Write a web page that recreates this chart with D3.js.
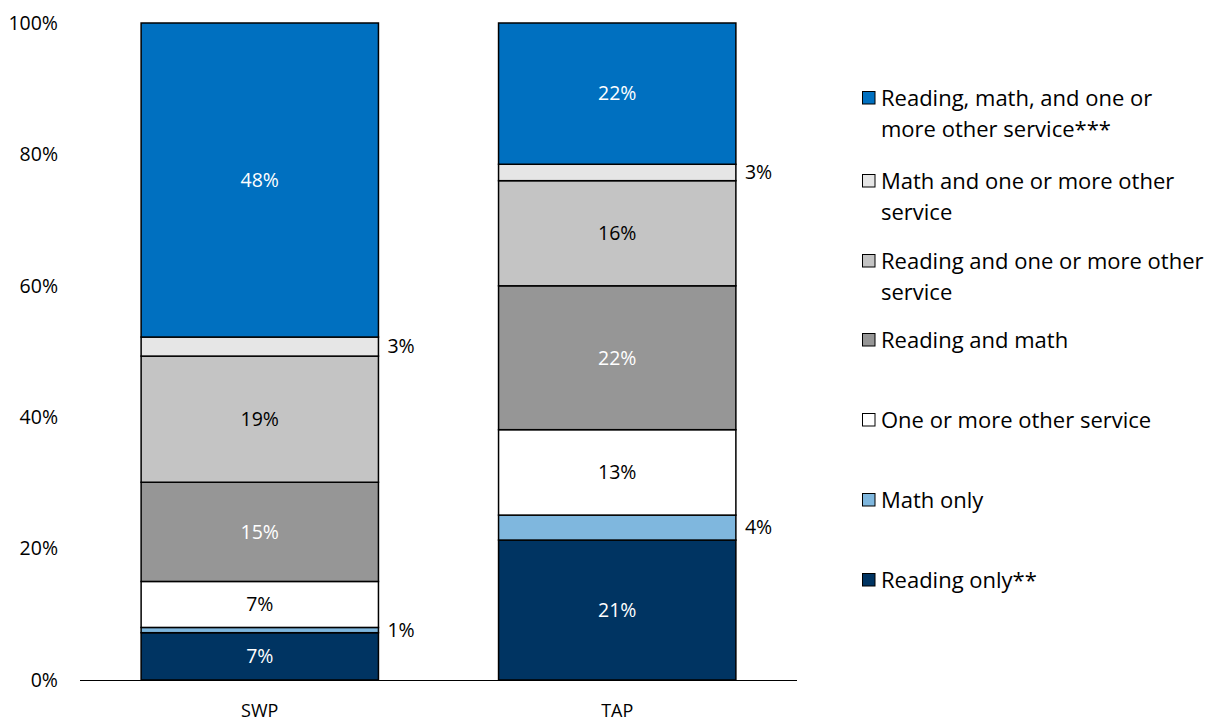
<!DOCTYPE html>
<html><head><meta charset="utf-8">
<script src="https://cdn.jsdelivr.net/npm/d3@7"></script>
<style>body{margin:0;background:#fff}svg text{font-family:"Open Sans",sans-serif}</style>
</head><body><svg id="c" width="1229" height="724"></svg>
<script>
const programs = ["SWP", "TAP"];
const seriesNames = ["Reading only**", "Math only", "One or more other service", "Reading and math", "Reading and one or more other service", "Math and one or more other service", "Reading, math, and one or more other service***"];
const legendLines = [["Reading only**"], ["Math only"], ["One or more other service"], ["Reading and math"], ["Reading and one or more other", "service"], ["Math and one or more other", "service"], ["Reading, math, and one or", "more other service***"]];
const swpValues = [7.2, 0.8, 7.0, 15.1, 19.2, 2.9, 47.8];
const tapValues = [21.3, 3.8, 13.0, 21.9, 16.0, 2.5, 21.5];
const swpLabels = ["7%", "1%", "7%", "15%", "19%", "3%", "48%"];
const tapLabels = ["21%", "4%", "13%", "22%", "16%", "3%", "22%"];
const colors = ["#003462", "#7FB7DE", "#FFFFFF", "#969696", "#C4C4C4", "#E6E6E6", "#0070C0"];
const textColors = ["#fff", "#000", "#000", "#fff", "#000", "#000", "#fff"];
const outside = [false, true, false, false, false, true, false];
const yTicks = [0, 20, 40, 60, 80, 100];

const svg = d3.select("#c");
const y = d3.scaleLinear().domain([0, 100]).range([680, 23]);
const x = d3.scaleBand().domain(programs).range([80, 797]).paddingInner(0.336).paddingOuter(0.171);
const FS = 19.5;
const LFS = 22;

svg.append("g").selectAll("text").data(yTicks).join("text")
  .attr("x", 58).attr("y", d => y(d)).attr("dy", "0.35em").attr("text-anchor", "end")
  .attr("font-size", FS).attr("fill", "#000").text(d => d + "%");

const data = [swpValues, tapValues];
const labels = [swpLabels, tapLabels];
programs.forEach((p, pi) => {
  let cum = 0;
  const segs = data[pi].map((v, i) => { const s = {i, y0: cum, y1: cum + v, v, lab: labels[pi][i]}; cum += v; return s; });
  const g = svg.append("g");
  g.selectAll("rect").data(segs).join("rect")
    .attr("x", x(p)).attr("width", x.bandwidth())
    .attr("y", d => y(d.y1)).attr("height", d => y(d.y0) - y(d.y1))
    .attr("fill", d => colors[d.i]).attr("stroke", "#000").attr("stroke-width", 1.5);
  g.selectAll("text").data(segs).join("text")
    .attr("x", d => outside[d.i] ? x(p) + x.bandwidth() + 9 : x(p) + x.bandwidth() / 2)
    .attr("y", d => y((d.y0 + d.y1) / 2))
    .attr("dy", "0.35em")
    .attr("text-anchor", d => outside[d.i] ? "start" : "middle")
    .attr("font-size", FS)
    .attr("fill", d => outside[d.i] ? "#000" : textColors[d.i])
    .text(d => d.lab);
});

svg.append("line").attr("x1", 80).attr("x2", 797).attr("y1", 680.5).attr("y2", 680.5).attr("stroke", "#000").attr("stroke-width", 1);
svg.append("g").selectAll("text").data(programs).join("text")
  .attr("x", d => x(d) + x.bandwidth() / 2).attr("y", 711).attr("dy", "0.35em")
  .attr("text-anchor", "middle").attr("font-size", 18).attr("fill", "#000").text(d => d);

const legY = [98, 181, 261, 340, 420, 500, 580];
const order = d3.range(seriesNames.length).reverse();
const lg = svg.append("g");
order.forEach((si, k) => {
  const yy = legY[k];
  lg.append("rect").attr("x", 862.5).attr("y", yy - 6.5).attr("width", 12.5).attr("height", 12.5)
    .attr("fill", colors[si]).attr("stroke", "#000").attr("stroke-width", 1);
  legendLines[si].forEach((ln, li) => {
    lg.append("text").attr("x", 881).attr("y", yy + li * 31.5).attr("dy", "0.35em")
      .attr("font-size", LFS).attr("fill", "#000").text(ln);
  });
});
</script></body></html>
